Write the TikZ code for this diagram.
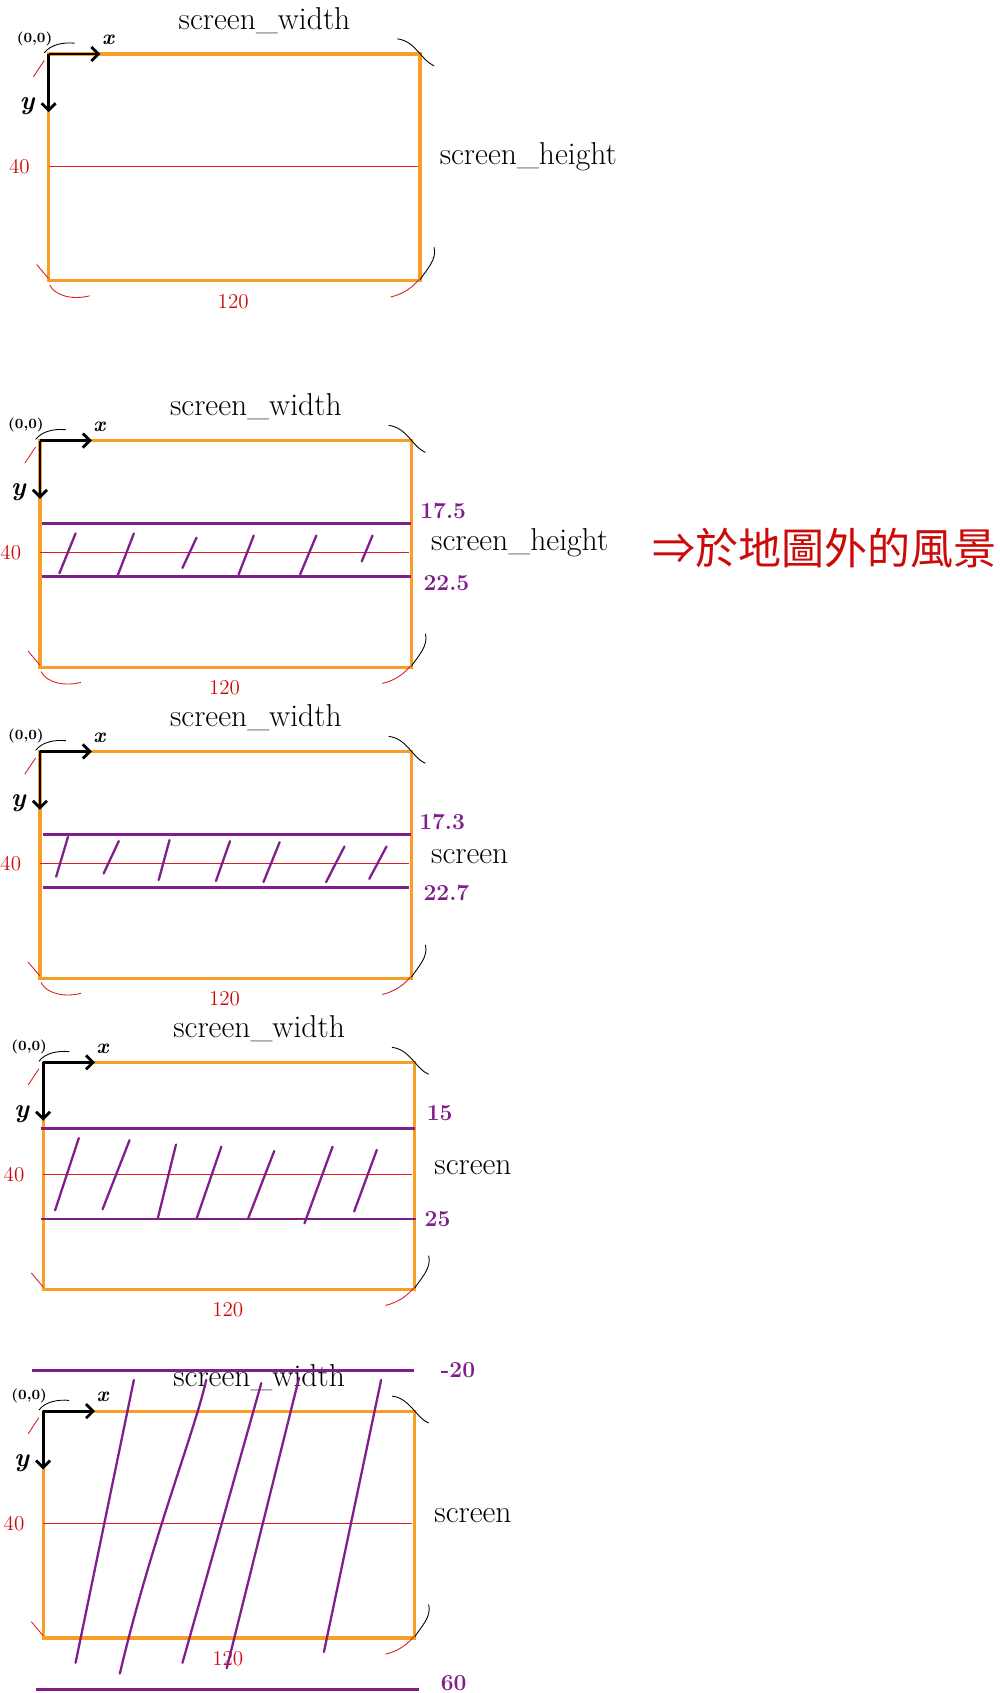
\documentclass[tikz,border=0pt]{standalone}
\usepackage{fontspec}
\newfontfamily\cjkfont{Noto Sans CJK TC}
\usetikzlibrary{arrows.meta}
\definecolor{sketchorange}{RGB}{247,158,38}
\definecolor{sketchpurple}{RGB}{128,30,140}
\definecolor{sketchred}{RGB}{222,30,30}
\definecolor{inkred}{RGB}{205,10,10}

\begin{document}
\begin{tikzpicture}[
  x=0.0216cm, y=-0.0216cm,
  screenframe/.style={draw=sketchorange, line width=1.8pt},
  midline/.style={draw=sketchred, line width=0.6pt},
  bound/.style={draw=sketchpurple, line width=1.6pt},
  hatch/.style={draw=sketchpurple, line width=1.3pt, line cap=round},
  axisarrow/.style={draw=black, line width=1.6pt, -{Straight Barb[length=4pt,width=8pt]}},
  redmark/.style={draw=sketchred, line width=0.5pt},
  blackmark/.style={draw=black, line width=0.5pt},
  hand/.style={font=\fontsize{18}{20}\selectfont, inner sep=0pt},
  redlabel/.style={text=inkred, font=\fontsize{12}{13}\selectfont, inner sep=0pt},
  purplelabel/.style={text=sketchpurple, font=\bfseries\fontsize{13}{14}\selectfont, inner sep=0pt, anchor=west}
]
\useasboundingbox (0,0) rectangle (926,1568);

% the five screens
\foreach \px/\py/\pn in {45/50/1, 37/408/2, 37/696/3, 40/984/4, 40/1307/5}{
\begin{scope}[shift={(\px,\py)}]
  \coordinate (o\pn) at (0,0);
  \coordinate (br\pn) at (344,210);
  \coordinate (ml\pn) at (0,104);
  \coordinate (mr\pn) at (342,104);
  \draw[screenframe] (o\pn) rectangle (br\pn);
  \draw[midline] (ml\pn) -- (mr\pn);
  \node[redlabel] (forty\pn) at (-27,104) {40};
  \node[redlabel] (wlen\pn) at (171,229) {120};
  \node[hand] (width\pn) at (200,-31) {screen\_width};
  \ifnum\pn<3
    \node[hand, anchor=west] (side\pn) at (362,95) {screen\_height};
  \else
    \node[hand, anchor=west] (side\pn) at (362,97) {screen};
  \fi
  % axes
  \coordinate (xe\pn) at (48,0);
  \coordinate (ye\pn) at (0,54);
  \draw[axisarrow] (o\pn) -- (xe\pn);
  \draw[axisarrow] (o\pn) -- (ye\pn);
  \node[font=\bfseries\fontsize{8}{9}\selectfont, inner sep=0pt] (org\pn) at (-13,-14) {(0,0)};
  \node[font=\bfseries\itshape\fontsize{12}{13}\selectfont, inner sep=0pt] (xl\pn) at (55,-13) {x};
  \node[font=\bfseries\itshape\fontsize{15}{16}\selectfont, inner sep=0pt] (yl\pn) at (-20,48) {y};
  % corner marks
  \draw[blackmark] (-4,-1) .. controls (2,-9) and (14,-11) .. (24,-10);
  \draw[redmark] (-14,21) -- (-4,6);
  \draw[blackmark] (323,-14) .. controls (340,-12) and (345,6) .. (357,11);
  \draw[blackmark] (357,179) .. controls (360,190) and (350,200) .. (344,209);
  \draw[redmark] (317,225) .. controls (330,222) and (338,215) .. (343,209);
  \draw[redmark] (-11,195) -- (0,208);
  \ifnum\pn<4
    \draw[redmark] (1,214) .. controls (6,224) and (22,228) .. (38,224);
  \fi
\end{scope}
}

% screen 2
\begin{scope}[shift={(37,408)}]
  \draw[bound] (2,77) -- (344,77);
  \draw[bound] (2,126) -- (344,126);
  \foreach \xb/\yb/\xt/\yt in {18/123/33/86, 72/125/87/86, 132/118/145/90, 184/124/198/88, 241/124/256/88, 298/112/308/88}
    \draw[hatch] (\xb,\yb) -- (\xt,\yt);
  \node[purplelabel] (top2) at (352,65) {17.5};
  \node[purplelabel] (bot2) at (355,132) {22.5};
\end{scope}
\node[text=inkred, font=\cjkfont\fontsize{24.5}{27}\selectfont, inner sep=0pt, anchor=west] (note) at (604,508) {⇒於地圖外的風景};

% screen 3
\begin{scope}[shift={(37,696)}]
  \draw[bound] (3,77) -- (344,77);
  \draw[bound] (3,126) -- (342,126);
  \foreach \xb/\yb/\xt/\yt in {15/116/26/79, 59/113/73/83, 110/119/120/82, 163/120/176/83, 207/121/222/84, 265/121/282/88, 305/118/321/88}
    \draw[hatch] (\xb,\yb) -- (\xt,\yt);
  \node[purplelabel] (top3) at (351,65) {17.3};
  \node[purplelabel] (bot3) at (355,131) {22.7};
\end{scope}

% screen 4
\begin{scope}[shift={(40,984)}]
  \draw[bound] (-2,61) -- (344,61);
  \draw[bound] (-2,145) -- (345,145);
  \foreach \xb/\yb/\xt/\yt in {11/137/33/70, 55/136/80/72, 106/145/123/76, 142/145/165/78, 190/144/214/82, 242/149/268/78, 288/138/309/81}
    \draw[hatch] (\xb,\yb) -- (\xt,\yt);
  \node[purplelabel] (top4) at (355,47) {15};
  \node[purplelabel] (bot4) at (353,145) {25};
\end{scope}

% screen 5
\begin{scope}[shift={(40,1307)}]
  \draw[bound] (-10,-38) -- (343,-38);
  \draw[bound] (-7,258) -- (348,258);
  \foreach \xb/\yb/\xt/\yt in {30/233/84/-29, 129/233/202/-26, 170/238/237/-31, 260/223/313/-29}
    \draw[hatch] (\xb,\yb) -- (\xt,\yt);
  \draw[hatch] (71,243) .. controls (100,120) and (140,20) .. (151,-29);
  \node[purplelabel] (top5) at (368,-38) {-20};
  \node[purplelabel] (bot5) at (368,252) {60};
\end{scope}
\end{tikzpicture}
\end{document}
